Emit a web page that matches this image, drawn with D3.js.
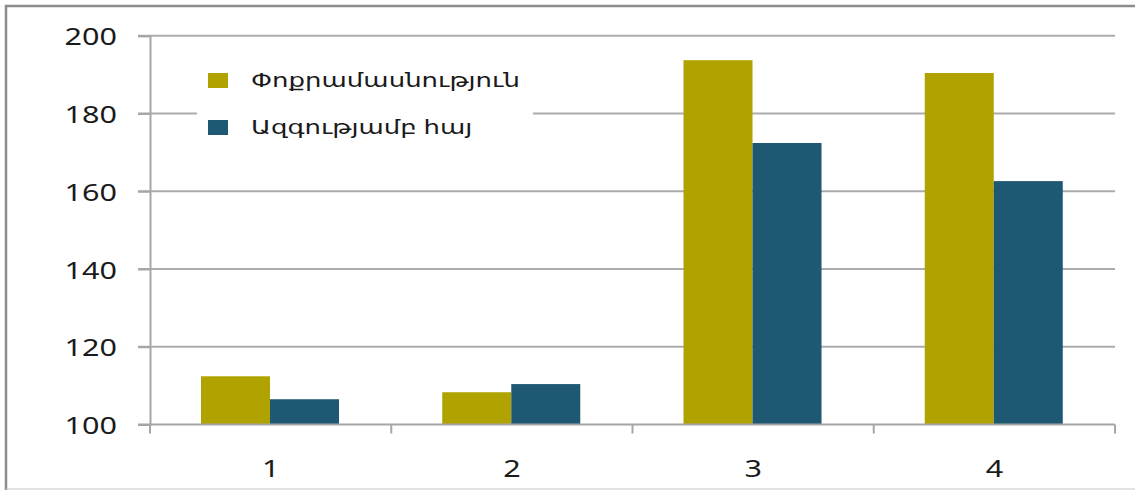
<!DOCTYPE html>
<html><head><meta charset="utf-8">
<script src="https://cdn.jsdelivr.net/npm/d3@7"></script>
<style>html,body{margin:0;padding:0;background:#fff;}svg{display:block;}</style>
</head><body>
<svg id="c" width="1135" height="490"></svg>
<script>
const categories = ["1","2","3","4"];
const seriesNames = ["Փոքրամասնություն","Ազգությամբ հայ"];
const minority = [112.4,108.3,193.7,190.4];
const armenian = [106.5,110.4,172.4,162.6];
const yTicks = [100,120,140,160,180,200];
const colors = ["#b0a300","#1f5872"];

const svg = d3.select("#c");
const W = 1135, H = 490;
const L = 150, R = 1115, T = 35.7, B = 424.5;
const SX = 1.3;
const font = "'Noto Sans', 'DejaVu Sans', sans-serif";

// border
svg.append("path").attr("d", `M6,${H+2} L6,6 L${W+2},6`).attr("fill","none").attr("stroke","#8c8c8c").attr("stroke-width",2.5);
svg.append("line").attr("x1",6).attr("x2",W).attr("y1",489).attr("y2",489).attr("stroke","#c4c4c4").attr("stroke-width",1);

const y = d3.scaleLinear().domain([100,200]).range([B,T]);
const x0 = d3.scaleBand().domain(categories).range([L,R]).padding(0);
const bw = x0.bandwidth();
const x1 = d3.scaleBand().domain([0,1]).range([bw*0.2114, bw*0.7835]).padding(0);

// gridlines
svg.append("g").selectAll("line").data(yTicks.filter(d=>d>100)).join("line")
  .attr("x1",L-12).attr("x2",R).attr("y1",d=>y(d)).attr("y2",d=>y(d))
  .attr("stroke","#acacac").attr("stroke-width",2);

// y axis
const yAxis = svg.append("g").attr("transform",`translate(${L},0)`)
  .call(d3.axisLeft(y).tickValues(yTicks).tickSize(12).tickPadding(0).tickFormat(d3.format("d")));
yAxis.select(".domain").attr("stroke","#a6a6a6").attr("stroke-width",2);
yAxis.selectAll(".tick line").attr("stroke","#a6a6a6").attr("stroke-width",2);
yAxis.selectAll(".tick text").attr("x",null).attr("dy",null)
  .attr("transform",`translate(-33,0) scale(${SX},1)`).attr("dominant-baseline","central")
  .style("font-family",font).style("font-size","23.5px").attr("fill","#1a1a1a");

// bars
const groups = svg.append("g").selectAll("g").data(categories).join("g")
  .attr("transform",d=>`translate(${x0(d)},0)`);
groups.selectAll("rect").data((d,i)=>[minority[i],armenian[i]]).join("rect")
  .attr("x",(d,j)=>x1(j)).attr("width",x1.bandwidth())
  .attr("y",d=>y(d)).attr("height",d=>y(100)-y(d))
  .attr("fill",(d,j)=>colors[j]);

// x axis
const xAxis = svg.append("g").attr("transform",`translate(0,${B})`)
  .call(d3.axisBottom(x0).tickSize(0).tickPadding(0));
xAxis.select(".domain").remove();
xAxis.append("line").attr("x1",L-12).attr("x2",R).attr("stroke","#a6a6a6").attr("stroke-width",2);
xAxis.selectAll(".xt").data(d3.range(categories.length+1)).join("line").attr("class","xt")
  .attr("x1",i=>L+i*bw).attr("x2",i=>L+i*bw).attr("y1",0).attr("y2",9)
  .attr("stroke","#a6a6a6").attr("stroke-width",2);
xAxis.selectAll(".tick text").attr("y",null).attr("dy",null)
  .attr("transform",`translate(0,43) scale(${SX},1)`).attr("dominant-baseline","central")
  .style("font-family",font).style("font-size","23.5px").attr("fill","#1a1a1a");

// legend
const lg = svg.append("g");
lg.append("rect").attr("x",197).attr("y",50).attr("width",336).attr("height",115).attr("fill","#fff");
seriesNames.forEach((n,i)=>{
  const yy = 73 + i*47;
  lg.append("rect").attr("x",208).attr("y",yy).attr("width",20).attr("height",15).attr("fill",colors[i]);
  lg.append("text").attr("transform",`translate(251,${yy+14}) scale(${SX},1)`)
    .style("font-family",font).style("font-size","20px").attr("fill","#1a1a1a").text(n);
});
</script>
</body></html>
